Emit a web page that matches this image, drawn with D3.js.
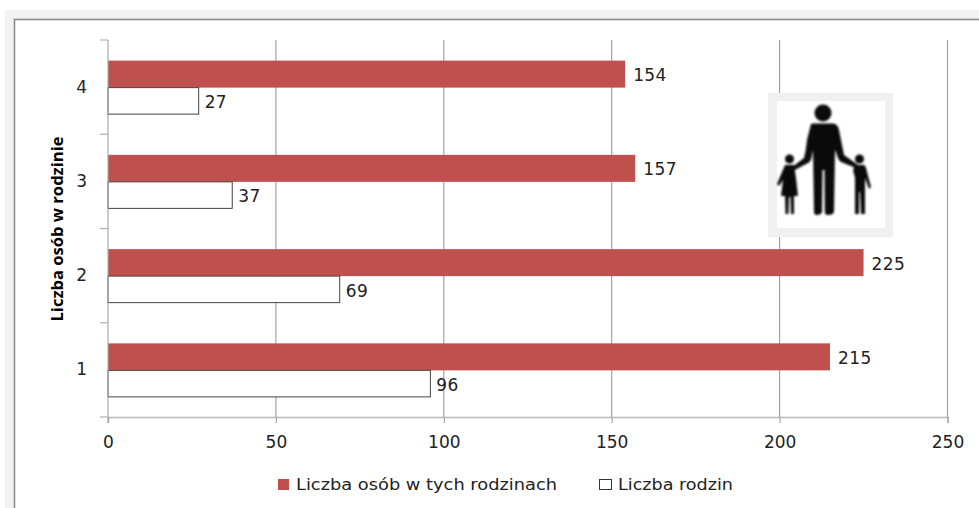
<!DOCTYPE html>
<html><head><meta charset="utf-8">
<script src="https://cdn.jsdelivr.net/npm/d3@7"></script>
<style>html,body{margin:0;padding:0;background:#fff}svg{display:block}text{font-family:"DejaVu Sans",sans-serif;fill:#222}</style>
</head><body><svg id="c" width="979" height="508"></svg>
<script>
const categories=["4","3","2","1"];
const osoby=[154,157,225,215];
const rodziny=[27,37,69,96];
const xTicks=[0,50,100,150,200,250];
const seriesNames=["Liczba osób w tych rodzinach","Liczba rodzin"];
const yTitle="Liczba osób w rodzinie";
const fs=17;
const ff='"DejaVu Sans",sans-serif';

const svg=d3.select("#c");
svg.append("rect").attr("x",5).attr("y",10).attr("width",974).attr("height",498).attr("fill","#f2f2f2");
svg.append("rect").attr("x",14.5).attr("y",19.5).attr("width",970).attr("height",500).attr("fill","#fff").attr("stroke","#8c8c8c").attr("stroke-width",1.6);

const x=d3.scaleLinear().domain([0,250]).range([108,947.5]);
const y=d3.scaleBand().domain(categories).range([40,417]);
const g=svg.append("g");

const gridG=g.append("g").attr("transform","translate(0,417)")
  .call(d3.axisBottom(x).tickValues(xTicks).tickSize(6).tickPadding(13));
gridG.select(".domain").attr("stroke","#b8b8b8").attr("stroke-width",1.4);
gridG.selectAll(".tick line").attr("stroke","#a8a8a8").attr("stroke-width",1.2);
gridG.selectAll("text").attr("font-size",fs).style("font-family",ff).attr("fill","#222");
g.append("g").selectAll("line").data(xTicks.slice(1)).join("line")
  .attr("x1",d=>x(d)).attr("x2",d=>x(d)).attr("y1",40).attr("y2",417)
  .attr("stroke","#9c9c9c").attr("stroke-width",1.1);

const barH=27;
const rows=categories.map((c,i)=>({c,a:osoby[i],b:rodziny[i]}));
g.append("g").selectAll("rect").data(rows).join("rect")
  .attr("x",x(0)).attr("y",d=>y(d.c)+y.bandwidth()/2-barH+0.5)
  .attr("width",d=>x(d.a)-x(0)).attr("height",barH).attr("fill","#c0504d");
g.append("g").selectAll("rect").data(rows).join("rect")
  .attr("x",x(0)).attr("y",d=>y(d.c)+y.bandwidth()/2+0.5)
  .attr("width",d=>x(d.b)-x(0)).attr("height",barH-0.5).attr("fill","#fff").attr("stroke","#444").attr("stroke-width",1);

const yG=g.append("g").attr("transform","translate(108,0)")
  .call(d3.axisLeft(y).tickSize(0).tickPadding(21));
yG.select(".domain").attr("stroke","#a8a8a8").attr("stroke-width",1.2).attr("d","M0,40V423");
yG.selectAll("text").attr("font-size",fs).style("font-family",ff).attr("fill","#222");
const yEdges=categories.map(c=>y(c)).concat([417]);
g.append("g").selectAll("line").data(yEdges).join("line")
  .attr("x1",100).attr("x2",108).attr("y1",d=>d).attr("y2",d=>d)
  .attr("stroke","#b0b0b0").attr("stroke-width",1.2);

g.append("g").selectAll("text").data(rows).join("text")
  .attr("x",d=>x(d.a)+8).attr("y",d=>y(d.c)+y.bandwidth()/2-6).text(d=>d.a).attr("font-size",fs).attr("letter-spacing",0.4);
g.append("g").selectAll("text").data(rows).join("text")
  .attr("x",d=>x(d.b)+6).attr("y",d=>y(d.c)+y.bandwidth()/2+21).text(d=>d.b).attr("font-size",fs).attr("letter-spacing",0.4);

svg.append("text").attr("transform","translate(63,229) rotate(-90)").attr("text-anchor","middle")
  .style("font-family",'"Open Sans",sans-serif')
  .attr("font-size",16).attr("font-weight",700).attr("textLength",185).attr("lengthAdjust","spacingAndGlyphs")
  .style("fill","#000").text(yTitle);

svg.append("rect").attr("x",278).attr("y",479).attr("width",11).attr("height",11).attr("fill","#c0504d");
svg.append("text").attr("x",296).attr("y",490).attr("font-size",16).attr("textLength",261).attr("lengthAdjust","spacingAndGlyphs").text(seriesNames[0]);
svg.append("rect").attr("x",599.5).attr("y",479.5).attr("width",12).attr("height",10).attr("fill","#fff").attr("stroke","#333");
svg.append("text").attr("x",618).attr("y",490).attr("font-size",16).attr("textLength",115).attr("lengthAdjust","spacingAndGlyphs").text(seriesNames[1]);

const icon=svg.append("g");
icon.append("rect").attr("x",768).attr("y",93).attr("width",125).attr("height",144).attr("fill","#f0f0f0");
icon.append("rect").attr("x",777).attr("y",101).attr("width",108).attr("height",127).attr("fill","#fff");
const k=icon.append("g").attr("fill","#0a0a0a").attr("stroke","none").style("filter","blur(0.8px)");
k.append("circle").attr("cx",823).attr("cy",113).attr("r",8.5);
k.append("path").attr("d","M811,124 Q811,123.500 813,123.500 L833,123.500 Q838,124 839,130 L844,155 L858,165 L856,168 L841,162 Q838,160 836,152 L835,150 L834,212 Q833,215 828,215 Q825,215 824.800,212 L824.500,170 L822.500,170 L822,212 Q821,215 817,215 Q814,215 814,212 L813,150 L811,160 Q809,163 806,164 L793,171 L791,168 L804,158 Q806,150 807,140 Z");
k.append("circle").attr("cx",789.500).attr("cy",159).attr("r",4.500);
k.append("path").attr("d","M785,165 L794,165 L796,178 L798,196 L794,196 L794,214 L791,214 L790.500,197 L789,197 L788.500,214 L785.500,214 L785,196 L781,196 L783,180 L779,186 L777,184 Z");
k.append("circle").attr("cx",859.500).attr("cy",159).attr("r",4.500);
k.append("path").attr("d","M855,165 L864,165 Q866,166 867,172 L871,187 L869,189 L865,178 L865,214 L861,214 L860,192 L859,192 L859,214 L855,214 L855,178 L853,170 Z");
</script></body></html>
